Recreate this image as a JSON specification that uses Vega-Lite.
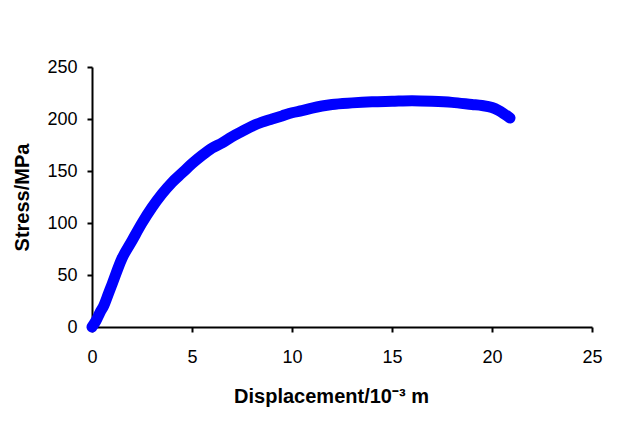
{
  "$schema": "https://vega.github.io/schema/vega-lite/v6.json",
  "autosize": "none",
  "padding": {"left": 92, "top": 67, "right": 28, "bottom": 103},
  "width": 500,
  "height": 260,
  "background": "white",
  "config": {
    "view": {"stroke": null},
    "font": "Liberation Sans",
    "axis": {
      "grid": false,
      "domainColor": "black",
      "domainWidth": 2,
      "tickColor": "black",
      "tickWidth": 2,
      "tickSize": 5,
      "labelFlush": false,
      "labelFont": "Liberation Sans",
      "labelFontSize": 18,
      "labelColor": "black",
      "titleFont": "Liberation Sans",
      "titleFontWeight": "bold",
      "titleFontSize": 20,
      "titleColor": "black"
    }
  },
  "data": {
    "values": [
      {"x": 0, "y": 0}, {"x": 0.2, "y": 6}, {"x": 0.4, "y": 14}, {"x": 0.6, "y": 21},
      {"x": 0.8, "y": 31}, {"x": 1.0, "y": 41}, {"x": 1.5, "y": 66}, {"x": 2.0, "y": 83},
      {"x": 2.5, "y": 100}, {"x": 3.0, "y": 115}, {"x": 3.5, "y": 128}, {"x": 4.0, "y": 139},
      {"x": 4.5, "y": 148}, {"x": 5.0, "y": 157}, {"x": 5.5, "y": 165}, {"x": 6.0, "y": 172},
      {"x": 6.5, "y": 177}, {"x": 7.0, "y": 183}, {"x": 7.5, "y": 188}, {"x": 8.0, "y": 193},
      {"x": 8.5, "y": 197}, {"x": 9.0, "y": 200}, {"x": 9.5, "y": 203}, {"x": 10.0, "y": 206},
      {"x": 10.5, "y": 208}, {"x": 11.0, "y": 210.5}, {"x": 11.5, "y": 212.5}, {"x": 12.0, "y": 214},
      {"x": 13.0, "y": 215.5}, {"x": 14.0, "y": 216.5}, {"x": 15.0, "y": 217}, {"x": 16.0, "y": 217.5},
      {"x": 17.0, "y": 217}, {"x": 18.0, "y": 216}, {"x": 19.0, "y": 214}, {"x": 19.5, "y": 213},
      {"x": 20.0, "y": 211}, {"x": 20.3, "y": 208.5}, {"x": 20.6, "y": 205}, {"x": 20.9, "y": 201}
    ]
  },
  "mark": {"type": "line", "color": "#0000FF", "strokeWidth": 11, "strokeCap": "round", "strokeJoin": "round", "interpolate": "monotone"},
  "encoding": {
    "x": {
      "field": "x", "type": "quantitative",
      "scale": {"domain": [0, 25], "nice": false},
      "axis": {"values": [0, 5, 10, 15, 20, 25], "labelPadding": 16, "title": "Displacement/10⁻³ m", "titlePadding": 20, "titleX": 239}
    },
    "y": {
      "field": "y", "type": "quantitative",
      "scale": {"domain": [0, 250], "nice": false},
      "axis": {"values": [0, 50, 100, 150, 200, 250], "labelPadding": 10, "title": "Stress/MPa", "titlePadding": 14}
    }
  }
}
